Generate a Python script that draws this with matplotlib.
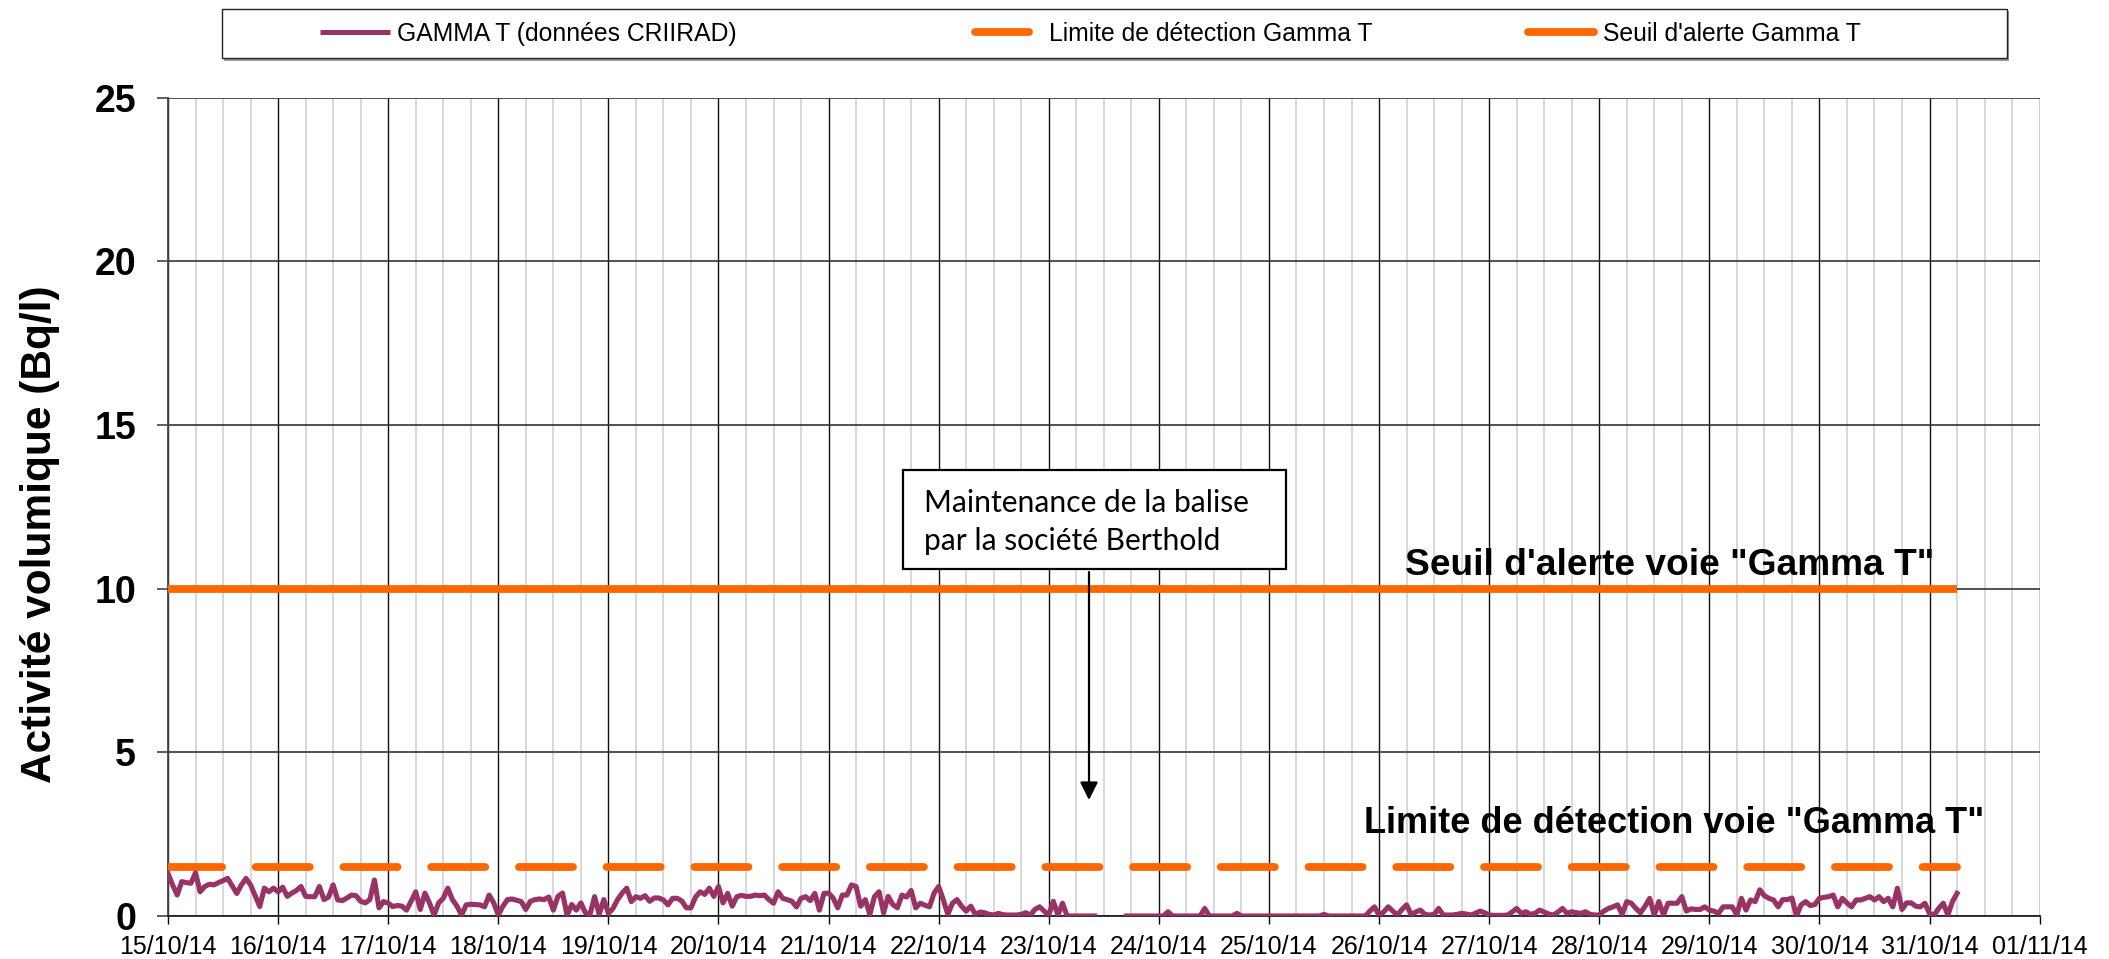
import numpy as np
import pandas as pd
import matplotlib
matplotlib.use("Agg")
import matplotlib.pyplot as plt
import matplotlib.dates as mdates
from matplotlib.lines import Line2D
from matplotlib.patches import Rectangle, FancyArrowPatch

plt.rcParams['font.family'] = ['Liberation Sans', 'DejaVu Sans']

# ---------------- data (hourly values, Bq/l) ----------------
start_time = "2014-10-15 00:00"
step = "h"
nan = np.nan
d15 = [1.30, 0.95, 0.64, 1.05, 1.02, 1.00, 1.32, 0.74, 0.90, 0.97, 0.95, 1.02,
       1.08, 1.15, 0.92, 0.69, 0.95, 1.15, 0.95, 0.62, 0.29, 0.85, 0.74, 0.85]
d16 = [0.74, 0.88, 0.60, 0.70, 0.78, 0.90, 0.60, 0.59, 0.59, 0.90, 0.50, 0.58,
       0.95, 0.49, 0.47, 0.55, 0.64, 0.62, 0.45, 0.40, 0.50, 1.10, 0.25, 0.44]
d17 = [0.39, 0.29, 0.32, 0.30, 0.18, 0.45, 0.74, 0.20, 0.70, 0.40, 0.03, 0.40,
       0.54, 0.85, 0.50, 0.30, 0.03, 0.34, 0.36, 0.35, 0.34, 0.28, 0.64, 0.40]
d18 = [0.03, 0.30, 0.50, 0.52, 0.48, 0.44, 0.20, 0.45, 0.50, 0.52, 0.50, 0.58,
       0.18, 0.60, 0.70, 0.02, 0.35, 0.18, 0.40, 0.10, 0.05, 0.59, 0.05, 0.50]
d19 = [0.08, 0.23, 0.50, 0.70, 0.85, 0.44, 0.59, 0.54, 0.62, 0.45, 0.55, 0.55,
       0.49, 0.34, 0.54, 0.54, 0.46, 0.25, 0.25, 0.58, 0.74, 0.66, 0.85, 0.60]
d20 = [0.90, 0.40, 0.69, 0.30, 0.59, 0.63, 0.60, 0.60, 0.64, 0.62, 0.64, 0.50,
       0.39, 0.74, 0.54, 0.50, 0.45, 0.28, 0.54, 0.59, 0.47, 0.69, 0.18, 0.69]
d21 = [0.70, 0.55, 0.25, 0.64, 0.64, 0.95, 0.90, 0.30, 0.50, 0.05, 0.59, 0.74,
       0.10, 0.60, 0.35, 0.25, 0.64, 0.58, 0.78, 0.25, 0.39, 0.33, 0.28, 0.70]
d22 = [0.90, 0.50, 0.05, 0.39, 0.50, 0.30, 0.15, 0.30, 0.05, 0.12, 0.10, 0.05,
       0.03, 0.08, 0.04, 0.03, 0.03, 0.03, 0.05, 0.10, 0.03, 0.20, 0.28, 0.15]
d23 = [0.03, 0.45, 0.03, 0.39, 0.00, 0.00, 0.00, 0.00, 0.00, 0.00, 0.00, nan,
       nan, nan, nan, nan, nan, 0.00, 0.00, 0.00, 0.00, 0.00, 0.00, 0.00]
d24 = [0.00, 0.00, 0.13, 0.00, 0.00, 0.00, 0.00, 0.00, 0.00, 0.00, 0.23, 0.00,
       0.00, 0.00, 0.00, 0.00, 0.00, 0.08, 0.00, 0.00, 0.00, 0.00, 0.00, 0.00]
d25 = [0.00, 0.00, 0.00, 0.00, 0.00, 0.00, 0.00, 0.00, 0.00, 0.00, 0.00, 0.00,
       0.05, 0.00, 0.00, 0.00, 0.00, 0.00, 0.00, 0.00, 0.00, 0.00, 0.15, 0.28]
d26 = [0.03, 0.12, 0.28, 0.15, 0.03, 0.20, 0.34, 0.05, 0.12, 0.18, 0.05, 0.03,
       0.05, 0.23, 0.03, 0.03, 0.03, 0.05, 0.08, 0.06, 0.03, 0.08, 0.15, 0.10]
d27 = [0.03, 0.02, 0.02, 0.02, 0.03, 0.12, 0.23, 0.08, 0.13, 0.05, 0.08, 0.18,
       0.12, 0.06, 0.03, 0.12, 0.23, 0.08, 0.13, 0.10, 0.08, 0.13, 0.05, 0.03]
d28 = [0.03, 0.15, 0.23, 0.28, 0.34, 0.05, 0.44, 0.39, 0.23, 0.10, 0.30, 0.54,
       0.03, 0.44, 0.03, 0.39, 0.39, 0.39, 0.59, 0.15, 0.22, 0.20, 0.20, 0.28]
d29 = [0.18, 0.15, 0.08, 0.28, 0.28, 0.28, 0.03, 0.54, 0.18, 0.49, 0.44, 0.80,
       0.62, 0.54, 0.49, 0.28, 0.50, 0.50, 0.55, 0.00, 0.34, 0.44, 0.32, 0.35]
d30 = [0.54, 0.57, 0.59, 0.64, 0.28, 0.54, 0.40, 0.28, 0.49, 0.49, 0.54, 0.59,
       0.49, 0.59, 0.44, 0.54, 0.28, 0.85, 0.20, 0.40, 0.40, 0.30, 0.28, 0.39]
d31 = [0.08, 0.03, 0.23, 0.39, 0.03, 0.44, 0.69]

gamma_t = (d15 + d16 + d17 + d18 + d19 + d20 + d21 + d22 + d23 + d24 + d25
           + d26 + d27 + d28 + d29 + d30 + d31)
detection_limit = 1.5
alert_level = 10.0

x_start = "2014-10-15"
x_end = "2014-11-01"
y_ticks = [0, 5, 10, 15, 20, 25]

legend_labels = ["GAMMA T (données CRIIRAD)", "Limite de détection Gamma T", "Seuil d'alerte Gamma T"]
seuil_text = 'Seuil d\'alerte voie "Gamma T"'
limite_text = 'Limite de détection voie "Gamma T"'
note_lines = ["Maintenance de la balise", "par la société Berthold"]

# ---------------- figure ----------------
W, H = 2109, 959
fig = plt.figure(figsize=(W / 100, H / 100), dpi=100)


def fx(px):
    return px / W


def fy(py):
    return 1 - py / H


ax = fig.add_axes([fx(168), fy(916), fx(2039.6) - fx(168), fy(97.7) - fy(916)])

times = pd.date_range(start_time, periods=len(gamma_t), freq=step)
n = len(times)

purple = "#993366"
orange = "#FF6600"

ax.plot(times, gamma_t, color=purple, lw=3.7, solid_joinstyle="round", zorder=4)
ax.plot(times, [detection_limit] * n, color=orange, lw=5.6,
        linestyle=(0, (6.95, 4.33)), dash_capstyle="round", zorder=3)
ax.plot(times, [alert_level] * n, color=orange, lw=5.6, solid_capstyle="butt", zorder=3)

ax.set_xlim(pd.Timestamp(x_start), pd.Timestamp(x_end))
ax.set_ylim(0, 25)
ax.set_yticks(y_ticks)

ax.xaxis.set_major_locator(mdates.DayLocator())
ax.xaxis.set_minor_locator(mdates.HourLocator(byhour=[6, 12, 18]))
ax.xaxis.set_major_formatter(mdates.DateFormatter("%d/%m/%y"))

ax.grid(which="minor", axis="x", color="#D2D2D2", lw=1.2)
ax.grid(which="major", axis="x", color="#111111", lw=1.0)
ax.grid(which="major", axis="y", color="#333333", lw=1.2)
ax.set_axisbelow(True)

ax.tick_params(axis="x", which="minor", length=0)
ax.tick_params(axis="x", which="major", length=6, width=1, pad=8, labelsize=18, color="black")
ax.tick_params(axis="y", which="major", length=8, width=1.2, pad=15, labelsize=27, color="#444444")
for lbl in ax.get_yticklabels():
    lbl.set_fontweight("bold")

for side in ["top", "right"]:
    ax.spines[side].set_visible(False)
ax.spines["left"].set_color("#444444")
ax.spines["left"].set_linewidth(1.3)
ax.spines["bottom"].set_color("#222222")
ax.spines["bottom"].set_linewidth(1.3)

ax.set_ylabel("Activité volumique (Bq/l)", fontsize=30.5, fontweight="bold")
ax.yaxis.set_label_coords(-0.0577, 0.466)

# line labels
ax.text(0.9436, 10.7, seuil_text, transform=ax.get_yaxis_transform(), ha="right", va="center",
        fontsize=26.7, fontweight="bold", zorder=6)
ax.text(0.9703, 2.84, limite_text, transform=ax.get_yaxis_transform(), ha="right", va="center",
        fontsize=26, fontweight="bold", zorder=6)

# ---------------- legend ----------------
shadow = Rectangle((fx(224), fy(61)), fx(2009) - fx(224), fy(11) - fy(61), transform=fig.transFigure,
                   facecolor="#9a9a9a", edgecolor="none", zorder=0)
frame = Rectangle((fx(222), fy(58)), fx(2007) - fx(222), fy(9) - fy(58), transform=fig.transFigure,
                  facecolor="white", edgecolor="#222222", lw=1.0, zorder=1)
fig.add_artist(shadow)
fig.add_artist(frame)

leg_handles = [
    Line2D([], [], color=purple, lw=3.6, solid_capstyle="butt"),
    Line2D([], [], color=orange, lw=5.6, solid_capstyle="round"),
    Line2D([], [], color=orange, lw=5.6, solid_capstyle="round"),
]
leg_x = [320, 975, 1528]
leg_len = [2.83, 2.19, 2.67]
leg_pad = [0.28, 0.81, 0.36]
for h, lab, lx, ll, lp in zip(leg_handles, legend_labels, leg_x, leg_len, leg_pad):
    lg = fig.legend([h], [lab], loc="center left", bbox_to_anchor=(fx(lx), fy(34)),
                    frameon=False, fontsize=17.8, handlelength=ll, handletextpad=lp,
                    borderpad=0, borderaxespad=0)
    lg.set_zorder(5)

# ---------------- annotation box + arrow ----------------
box = Rectangle((fx(903), fy(569)), fx(1286) - fx(903), fy(470) - fy(569), transform=fig.transFigure,
                facecolor="white", edgecolor="black", lw=1.6, zorder=8)
fig.add_artist(box)
fig.text(fx(924), fy(512), note_lines[0], fontsize=21.6, family=["Lato", "DejaVu Sans"],
         va="baseline", ha="left", zorder=9)
fig.text(fx(924), fy(550), note_lines[1], fontsize=21.6, family=["Lato", "DejaVu Sans"],
         va="baseline", ha="left", zorder=9)
fig.add_artist(FancyArrowPatch(
    (fx(1089), fy(572)), (fx(1089), fy(800)), transform=fig.transFigure,
    arrowstyle="-|>", mutation_scale=27, color="black", lw=1.6, shrinkA=0, shrinkB=0, zorder=9))

fig.savefig("out.png", dpi=100)
